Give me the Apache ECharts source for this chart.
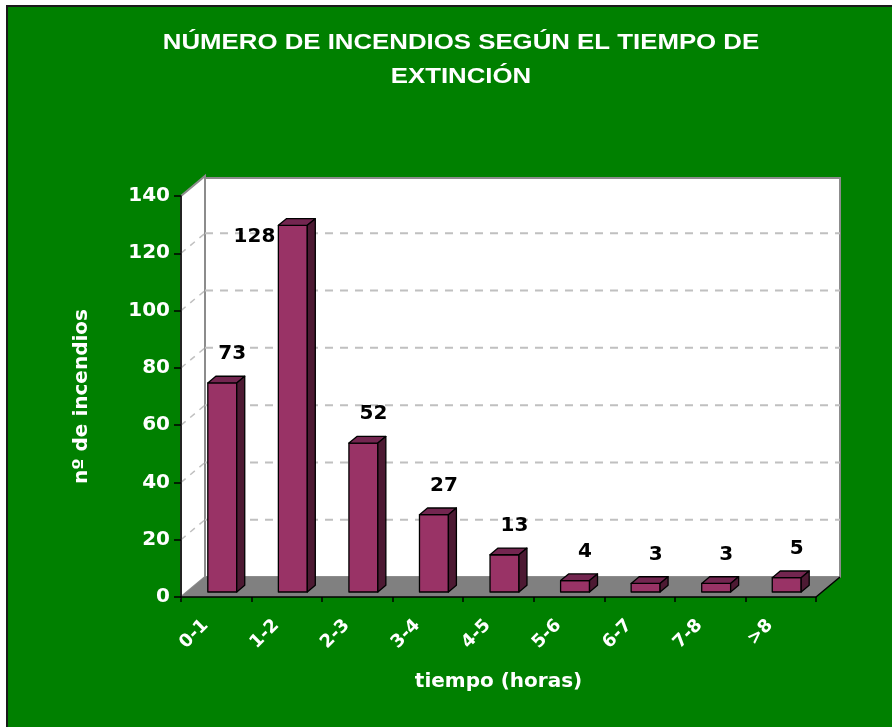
<!DOCTYPE html>
<html>
<head>
<meta charset="utf-8">
<script src="https://cdn.jsdelivr.net/npm/echarts@6/dist/echarts.min.js"></script>
<style>
  html, body { margin: 0; padding: 0; background: #fff; }
  #chart { width: 892px; height: 727px; }
</style>
</head>
<body>
<div id="chart"></div>
<script>
// datos del gráfico
var categories = ['0-1', '1-2', '2-3', '3-4', '4-5', '5-6', '6-7', '7-8', '>8'];
var incendios = [73, 128, 52, 27, 13, 4, 3, 3, 5];
var yTicks = [0, 20, 40, 60, 80, 100, 120, 140];

var DX = 24, DY = 20;          // profundidad del suelo / pared
var AXIS_FONT = '"DejaVu Sans", sans-serif';

var myChart = echarts.init(document.getElementById('chart'));

// paredes, suelo y líneas de división
function renderBack(params, api) {
  var w = api.size([1, 0])[0];
  var p0 = api.coord([0, 0]);
  var x0 = p0[0] - w / 2, y0 = p0[1];
  var x1 = api.coord([categories.length - 1, 0])[0] + w / 2;
  var yTop = api.coord([0, yTicks[yTicks.length - 1]])[1];
  var children = [];
  children.push({
    type: 'polygon',
    shape: { points: [[x0, y0], [x0, yTop], [x0 + DX, yTop - DY], [x0 + DX, y0 - DY]] },
    style: { fill: '#ffffff', stroke: '#8c8c8c', lineWidth: 2 }
  });
  children.push({
    type: 'rect',
    shape: { x: x0 + DX, y: yTop - DY + 2, width: x1 - x0, height: y0 - yTop - 2 },
    style: { fill: '#ffffff', stroke: '#8c8c8c', lineWidth: 2 }
  });
  for (var i = 1; i < yTicks.length - 1; i++) {
    var y = api.coord([0, yTicks[i]])[1];
    children.push({
      type: 'line',
      shape: { x1: x0 + DX, y1: y - DY, x2: x1 + DX, y2: y - DY },
      style: { stroke: '#c0c0c0', lineWidth: 2, lineDash: [8, 7] }
    });
    children.push({
      type: 'line',
      shape: { x1: x0, y1: y, x2: x0 + DX, y2: y - DY },
      style: { stroke: '#c0c0c0', lineWidth: 1.5, lineDash: [6, 6] }
    });
  }
  children.push({
    type: 'polygon',
    shape: { points: [[x0, y0], [x1, y0], [x1 + DX, y0 - DY], [x0 + DX, y0 - DY]] },
    style: { fill: '#808080' }
  });
  children.push({
    type: 'line',
    shape: { x1: x1, y1: y0, x2: x1 + DX, y2: y0 - DY },
    style: { stroke: '#000000', lineWidth: 1.5 }
  });
  return { type: 'group', children: children };
}

// barras 3D
function renderBar(params, api) {
  var i = api.value(0), v = api.value(1);
  var w = api.size([1, 0])[0];
  var p = api.coord([i, v]);
  var b = api.coord([i, 0]);
  var bw = w * 0.41;
  var fx = p[0] + 0.25 * DX - bw / 2;
  var ftop = p[1] - 0.25 * DY;
  var fbot = b[1] - 0.25 * DY;
  var bdx = DX / 3, bdy = DY / 3;
  var edge = { stroke: '#000000', lineWidth: 1.3, lineJoin: 'round' };
  var label;
  if (v > 120) {
    label = { x: fx - 3, y: ftop + 11, align: 'right' };
  } else {
    label = { x: p[0] + 0.25 * DX + 10, y: ftop - 29, align: 'center' };
  }
  return {
    type: 'group',
    children: [
      {
        type: 'rect',
        shape: { x: fx, y: ftop, width: bw, height: fbot - ftop },
        style: Object.assign({ fill: '#993366' }, edge)
      },
      {
        type: 'polygon',
        shape: { points: [[fx, ftop], [fx + bw, ftop], [fx + bw + bdx, ftop - bdy], [fx + bdx, ftop - bdy]] },
        style: Object.assign({ fill: '#732650' }, edge)
      },
      {
        type: 'polygon',
        shape: { points: [[fx + bw, ftop], [fx + bw, fbot], [fx + bw + bdx, fbot - bdy], [fx + bw + bdx, ftop - bdy]] },
        style: Object.assign({ fill: '#4d1a33' }, edge)
      },
      {
        type: 'text',
        x: label.x, y: label.y,
        style: {
          text: String(v), fill: '#000000',
          font: 'bold 20px ' + AXIS_FONT,
          align: label.align, verticalAlign: 'middle'
        }
      }
    ]
  };
}

var option = {
  backgroundColor: '#ffffff',
  animation: false,
  graphic: [
    {
      type: 'rect', z: -10,
      shape: { x: 7, y: 6, width: 1000, height: 1000 },
      style: { fill: '#008000', stroke: '#1a1a1a', lineWidth: 2 }
    },
    {
      type: 'text', x: 461, y: 43, scaleX: 1.2,
      style: {
        text: 'NÚMERO DE INCENDIOS SEGÚN EL TIEMPO DE',
        font: 'bold 21.5px "Liberation Sans", Arial, sans-serif',
        fill: '#ffffff', align: 'center', verticalAlign: 'middle'
      }
    },
    {
      type: 'text', x: 461, y: 77, scaleX: 1.2,
      style: {
        text: 'EXTINCIÓN',
        font: 'bold 21.5px "Liberation Sans", Arial, sans-serif',
        fill: '#ffffff', align: 'center', verticalAlign: 'middle'
      }
    }
  ],
  grid: { left: 181, right: 76, top: 196, bottom: 130 },
  xAxis: {
    type: 'category',
    data: categories,
    name: 'tiempo (horas)',
    nameLocation: 'middle',
    nameGap: 75,
    nameTextStyle: { color: '#ffffff', fontWeight: 'bold', fontSize: 20, fontFamily: AXIS_FONT },
    axisLine: { lineStyle: { color: '#000000', width: 1.5 } },
    axisTick: { show: true, length: 5, interval: 0, lineStyle: { color: '#000000', width: 1.5 } },
    axisLabel: {
      interval: 0, rotate: 45, margin: 15, padding: [0, 15, 0, 0],
      color: '#ffffff', fontWeight: 'bold', fontSize: 18, fontFamily: AXIS_FONT
    },
    splitLine: { show: false }
  },
  yAxis: {
    type: 'value',
    min: 0, max: 140, interval: 20,
    name: 'nº de incendios',
    nameLocation: 'middle',
    nameGap: 89,
    nameTextStyle: { color: '#ffffff', fontWeight: 'bold', fontSize: 20, fontFamily: AXIS_FONT },
    axisLine: { show: true, lineStyle: { color: '#000000', width: 1.5 } },
    axisTick: { show: true, length: 7, lineStyle: { color: '#000000', width: 1.5 } },
    axisLabel: { margin: 11, color: '#ffffff', fontWeight: 'bold', fontSize: 20, fontFamily: AXIS_FONT },
    splitLine: { show: false }
  },
  series: [
    {
      type: 'custom', z: -1, clip: false, silent: true,
      renderItem: renderBack,
      data: [[0, 0]]
    },
    {
      type: 'custom', z: 3, clip: false,
      renderItem: renderBar,
      encode: { x: 0, y: 1 },
      data: incendios.map(function (v, i) { return [i, v]; })
    }
  ]
};
myChart.setOption(option);
</script>
</body>
</html>
